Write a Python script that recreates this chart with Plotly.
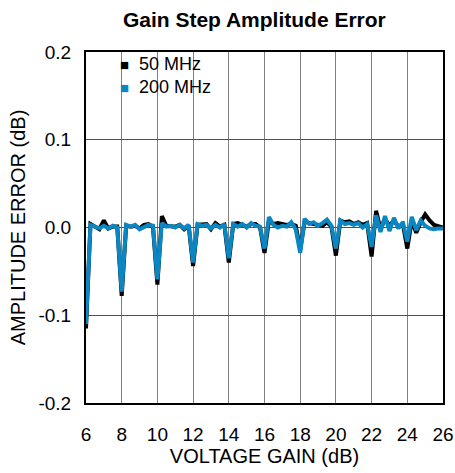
import plotly.graph_objects as go

gain_db = [round(6 + 0.25 * i, 2) for i in range(81)]

err_50mhz = [
    -0.115, 0.004, 0.001, -0.002, 0.008, -0.001, 0.001, 0.001,
    -0.078, 0.002, 0.001, 0.002, -0.001, 0.003, 0.004, 0.001,
    -0.065, 0.013, 0.002, 0.002, 0.001, 0.003, -0.002, 0.002,
    -0.044, 0.003, 0.003, 0.004, -0.002, 0.005, 0.001, 0.003,
    -0.040, 0.004, 0.005, 0.003, 0.001, 0.004, 0.004, 0.000,
    -0.029, 0.008, 0.004, 0.005, 0.004, 0.003, 0.004, 0.002,
    -0.025, 0.007, 0.005, 0.004, 0.004, 0.002, 0.006, 0.001,
    -0.032, 0.008, 0.006, 0.007, 0.004, 0.006, 0.003, 0.005,
    -0.033, 0.019, -0.002, 0.010, 0.002, 0.008, 0.001, 0.004,
    -0.024, 0.008, -0.006, 0.006, 0.015, 0.008, 0.003, 0.002,
    0.000,
]

err_200mhz = [
    -0.110, 0.003, 0.001, -0.001, 0.002, -0.001, 0.002, 0.000,
    -0.073, 0.003, 0.001, 0.003, -0.002, 0.001, 0.003, 0.002,
    -0.059, 0.005, 0.001, 0.002, 0.000, 0.003, -0.001, 0.003,
    -0.040, 0.004, 0.002, 0.003, -0.001, 0.003, 0.000, 0.004,
    -0.035, 0.004, 0.001, 0.004, 0.000, 0.005, 0.002, 0.001,
    -0.024, 0.012, 0.003, 0.000, 0.002, 0.001, 0.006, -0.002,
    -0.029, 0.010, 0.004, 0.006, 0.002, 0.005, 0.009, 0.002,
    -0.024, 0.008, 0.004, 0.005, 0.003, 0.005, 0.000, 0.004,
    -0.022, 0.014, -0.005, 0.013, -0.004, 0.011, -0.001, 0.006,
    -0.016, 0.012, -0.003, 0.008, 0.002, -0.001, -0.002, -0.001,
    -0.001,
]

series_names = ["50 MHz", "200 MHz"]
series_colors = ["#000000", "#0a87c2"]

x_ticks = [6, 8, 10, 12, 14, 16, 18, 20, 22, 24, 26]
y_ticks = [-0.2, -0.1, 0.0, 0.1, 0.2]
y_tick_text = ["-0.2", "-0.1", "0.0", "0.1", "0.2"]

FONT = "Liberation Sans, Arial, sans-serif"

W, H = 455, 473
ML, MR, MT, MB = 86, 12, 52, 70
PW, PH = W - ML - MR, H - MT - MB


def px_x(px):
    return (px - ML) / PW


def px_y(py):
    return (MT + PH - py) / PH


fig = go.Figure()
for name, color, vals in zip(series_names, series_colors, [err_50mhz, err_200mhz]):
    fig.add_trace(go.Scatter(
        x=gain_db, y=vals, mode="lines", name=name,
        line=dict(color=color, width=4), showlegend=False,
    ))

# white box behind the legend (covers gridlines, stays under the traces)
fig.add_shape(type="rect", xref="paper", yref="paper",
              x0=px_x(116), x1=px_x(218), y0=px_y(97), y1=px_y(53),
              fillcolor="white", line=dict(width=0), layer="between")

# legend (square swatch + label per series), one text block
legend_lines = [
    f'<span style="font-size:15px;color:{c}">■</span>  {n}'
    for n, c in zip(series_names, series_colors)
]
fig.add_annotation(
    xref="paper", yref="paper",
    x=px_x(119), y=px_y(75),
    xanchor="left", yanchor="middle", align="left", showarrow=False,
    text="<br>".join(legend_lines),
    font=dict(family=FONT, size=18, color="black"),
    borderpad=0,
)

fig.update_layout(
    width=W, height=H,
    margin=dict(l=ML, r=MR, t=MT, b=MB),
    paper_bgcolor="white", plot_bgcolor="white",
    font=dict(family=FONT, size=18, color="black"),
    title=dict(text="<b>Gain Step Amplitude Error</b>", xref="container", x=0.559,
               xanchor="center", yref="container", y=1 - 20 / H, yanchor="middle",
               font=dict(size=21)),
    showlegend=False,
)
fig.update_xaxes(
    range=[6, 26], tickvals=x_ticks, showgrid=True, gridcolor="#808080", gridwidth=1,
    showline=True, linecolor="black", linewidth=2, mirror=True, zeroline=False,
    ticks="", ticklabelstandoff=13, automargin=False,
    tickfont=dict(size=19),
    title=dict(text="VOLTAGE GAIN (dB)", font=dict(size=20), standoff=0),
)
fig.update_yaxes(
    range=[-0.2, 0.2], tickvals=y_ticks, ticktext=y_tick_text,
    showgrid=True, gridcolor="#505050", gridwidth=1,
    showline=True, linecolor="black", linewidth=2, mirror=True, zeroline=False,
    ticks="", ticklabelstandoff=9, automargin=False,
    tickfont=dict(size=19),
    title=dict(text="AMPLITUDE ERROR (dB)", font=dict(size=20), standoff=7),
)

fig.write_html("out.html", config={"displayModeBar": False},
               post_script="document.body.style.margin='0';document.body.style.overflow='hidden';")
